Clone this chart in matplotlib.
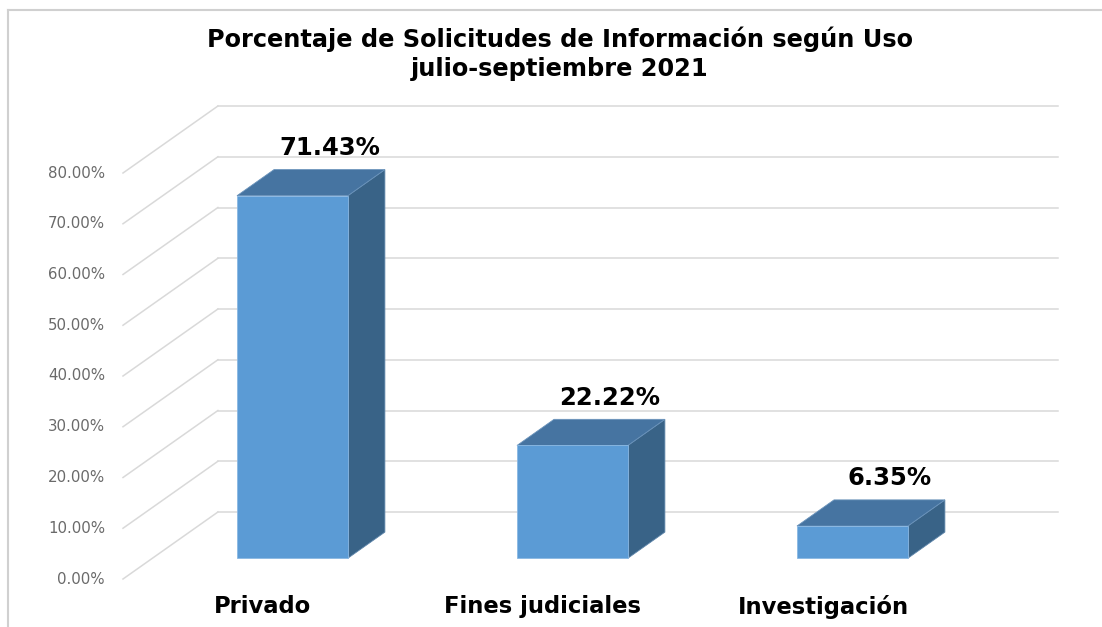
import matplotlib
matplotlib.use("Agg")
import matplotlib.pyplot as plt
from matplotlib.patches import Polygon

# ─── data ─────────────────────────────────────────────────────────────────────
categories = ["Privado", "Fines judiciales", "Investigación"]
values = [71.43, 22.22, 6.35]
value_labels = ["71.43%", "22.22%", "6.35%"]
ticks = [0, 10, 20, 30, 40, 50, 60, 70, 80]
title = "Porcentaje de Solicitudes de Información según Uso\njulio-septiembre 2021"

# ─── fake 3D geometry (oblique projection) ────────────────────────────────────
DEPTH_X = 0.339      # x shift (category units) for full depth
DEPTH_Y = 13.2       # y shift (percent units) for full depth
BAR_D0, BAR_D1 = 0.31, 0.70
BAR_W = 0.396

FRONT = "#5b9bd5"
TOP = "#4674a1"
SIDE = "#396387"
GRID = "#d9d9d9"

W, H = 1102, 627
fig = plt.figure(figsize=(W / 100, H / 100), dpi=100)
ax = fig.add_axes([0, 0, 1, 1])
# 1 category = 280 px, 1 % = 5.075 px; category 0 at px 263, 0% at px 579
ax.set_xlim(-263 / 280, (W - 263) / 280)
ax.set_ylim((579 - H) / 5.075, 579 / 5.075)
ax.axis("off")

def shift(x, y, d):
    return x + DEPTH_X * d, y + DEPTH_Y * d

# gridlines: diagonal on the side wall, horizontal on the back wall
x_left, x_right = -0.5, 2.5
for t in ticks:
    bx, by = shift(x_left, t, 1)
    ax.plot([x_left, bx], [t, by], color=GRID, lw=1.1, zorder=1)
    ex, _ = shift(x_right, t, 1)
    ax.plot([bx, ex], [by, by], color=GRID, lw=1.1, zorder=1)
    ax.text(x_left - 0.064, t, f"{t:.2f}%", ha="right", va="center",
            fontsize=10.8, color="#6a6a6a", family="DejaVu Sans")

# bars
for i, v in enumerate(values):
    xl = i - BAR_W / 2 + DEPTH_X * BAR_D0
    xr = xl + BAR_W
    y0 = DEPTH_Y * BAR_D0
    y1 = v + DEPTH_Y * BAR_D0
    dx = DEPTH_X * (BAR_D1 - BAR_D0)
    dy = DEPTH_Y * (BAR_D1 - BAR_D0)
    side = [(xr, y0), (xr + dx, y0 + dy), (xr + dx, y1 + dy), (xr, y1)]
    top = [(xl, y1), (xr, y1), (xr + dx, y1 + dy), (xl + dx, y1 + dy)]
    front = [(xl, y0), (xr, y0), (xr, y1), (xl, y1)]
    ax.add_patch(Polygon(side, closed=True, fc=SIDE, ec="#5f86ab", lw=0.6, zorder=3))
    ax.add_patch(Polygon(top, closed=True, fc=TOP, ec="#6a93bb", lw=0.6, zorder=3))
    ax.add_patch(Polygon(front, closed=True, fc=FRONT, ec="#8ab8e3", lw=0.6, zorder=4))
    ax.text(xl + dx + BAR_W / 2, y1 + dy + 4.3, value_labels[i], ha="center",
            va="center", fontsize=17.5, fontweight="bold", color="black")
    ax.text(i, -5.5, categories[i], ha="center", va="center",
            fontsize=16.3, fontweight="bold", color="black")

# title
fig.text(560 / W, 1 - 54 / H, title, ha="center", va="center",
         fontsize=17.3, fontweight="bold", linespacing=1.25)

# chart border (top and left visible)
fig.add_artist(plt.Line2D([8 / W, 1], [1 - 9.5 / H] * 2, color="#d0d0d0", lw=1.5))
fig.add_artist(plt.Line2D([7.5 / W] * 2, [0, 1 - 9.5 / H], color="#d0d0d0", lw=1.5))

fig.savefig("out.png", dpi=100)
